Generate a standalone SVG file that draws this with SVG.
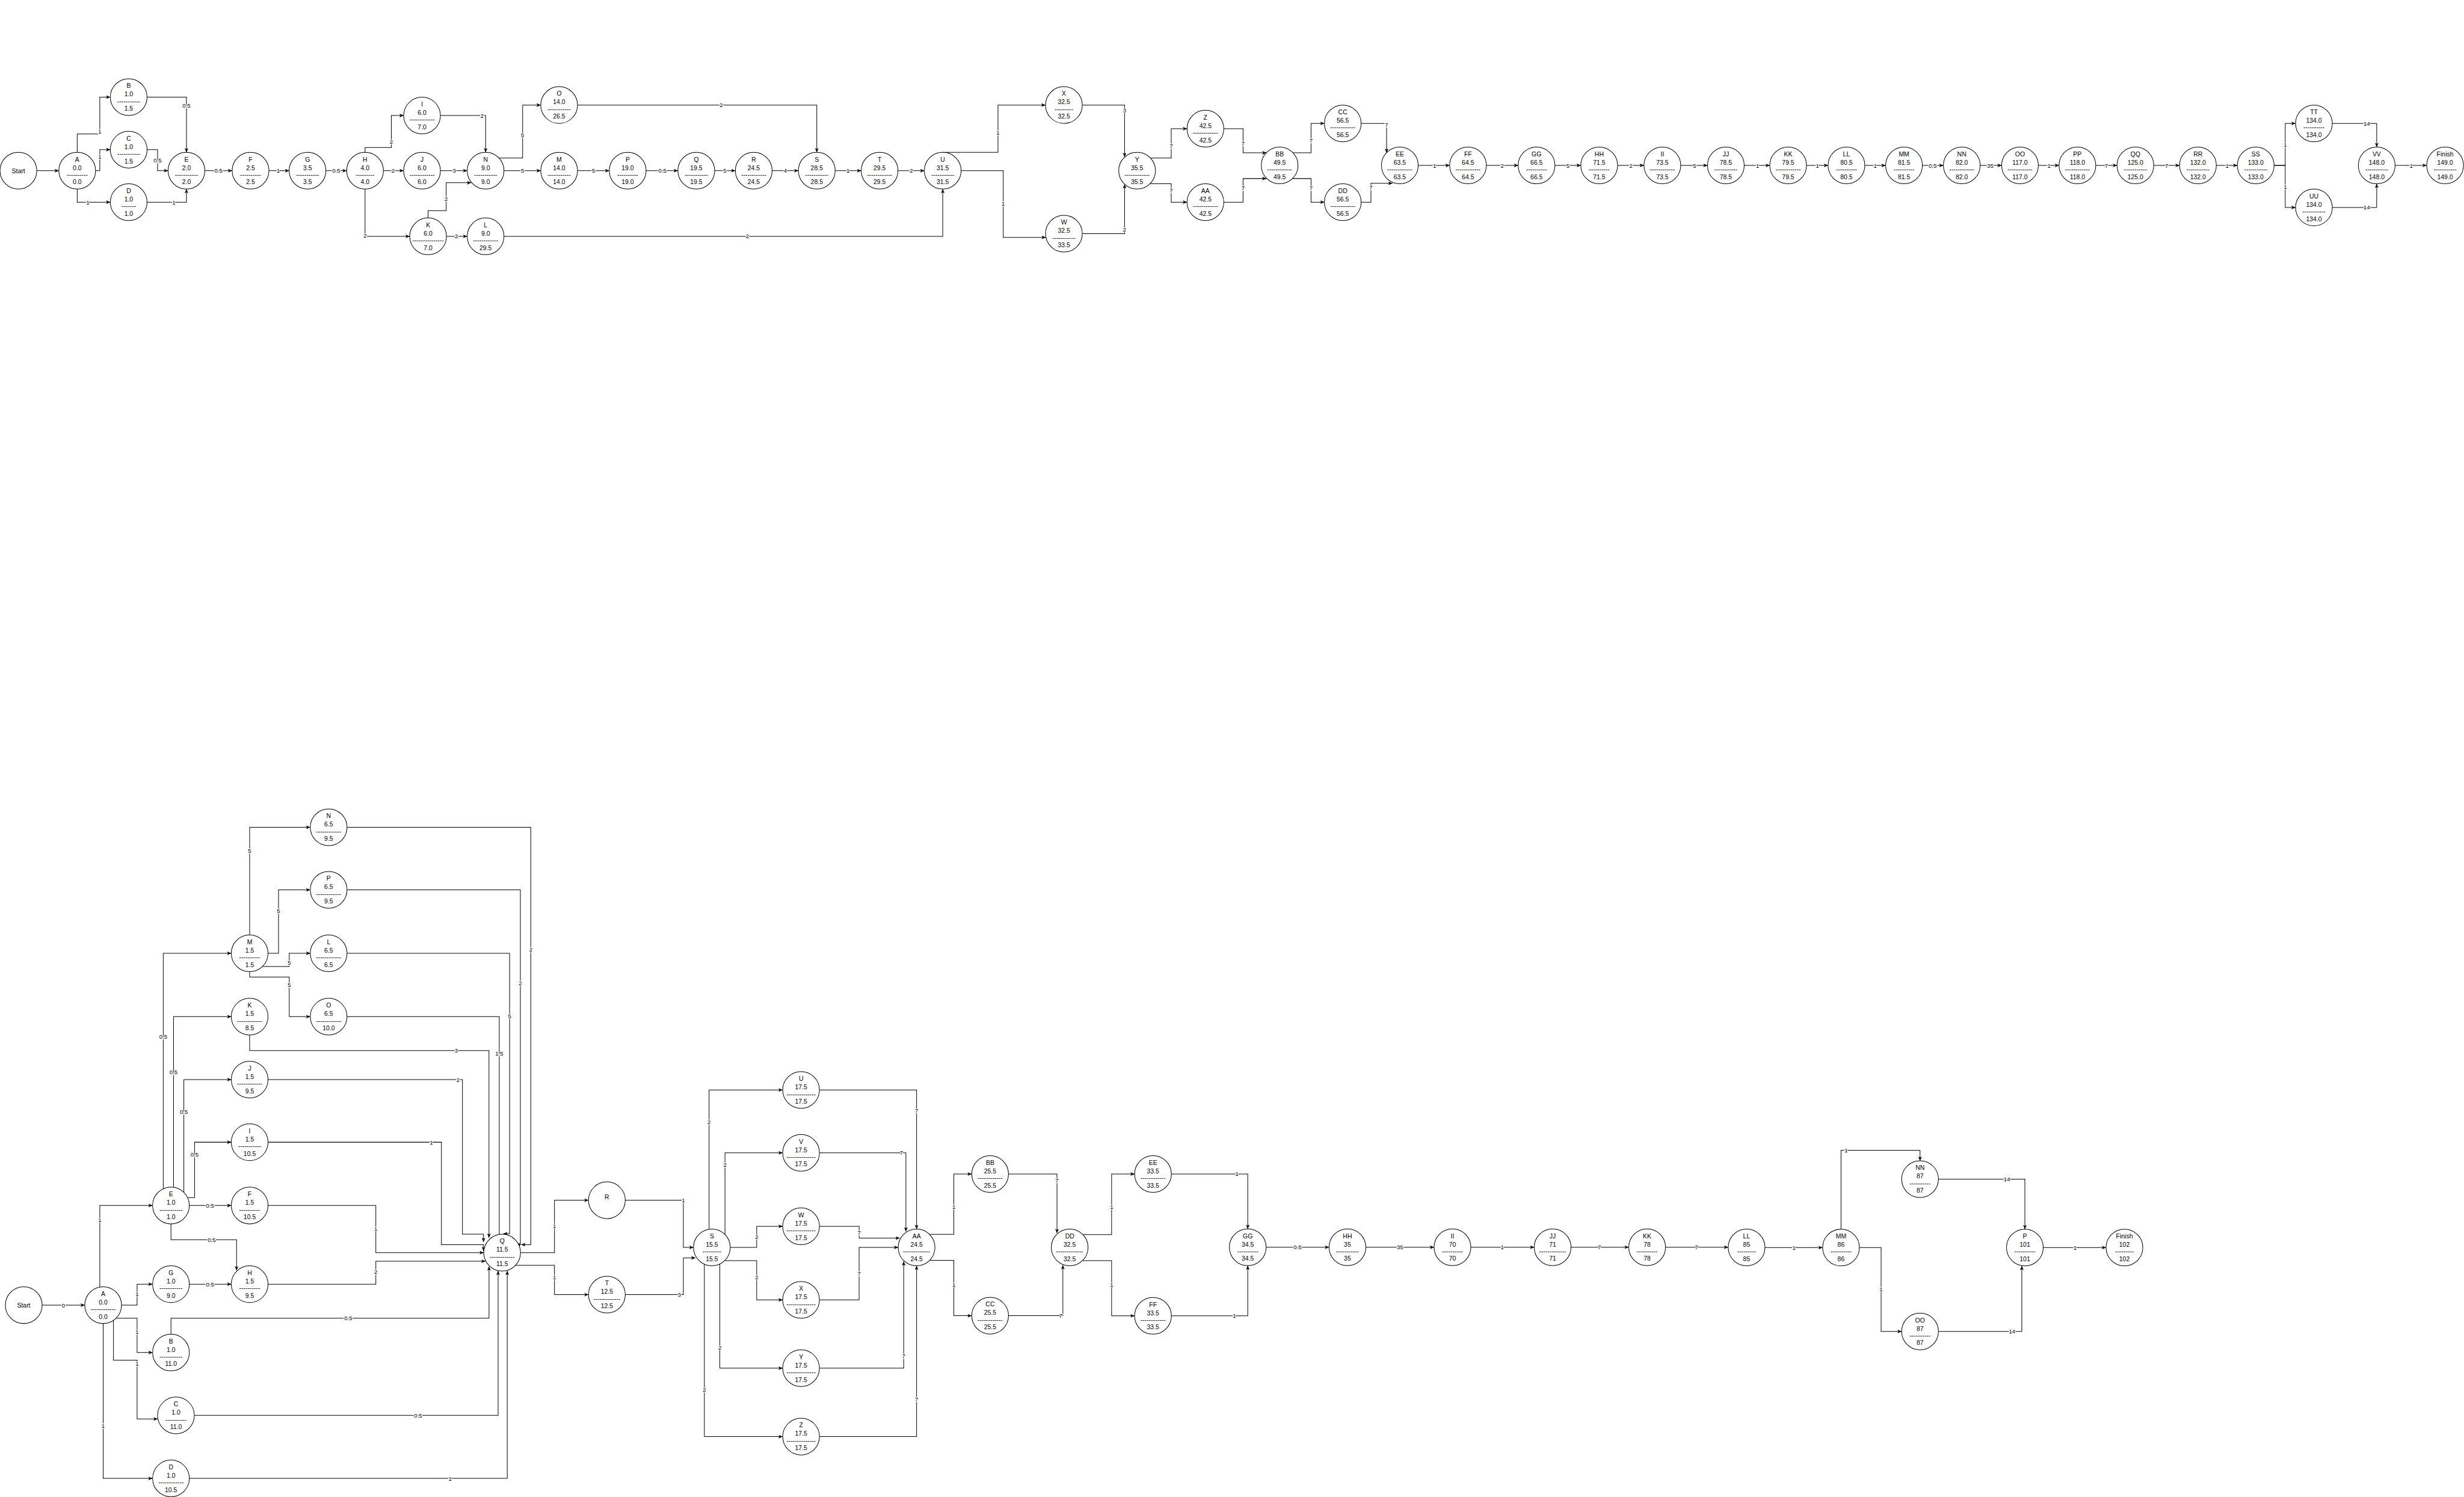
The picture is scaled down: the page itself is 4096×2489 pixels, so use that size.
<svg xmlns="http://www.w3.org/2000/svg" width="4096" height="2489" viewBox="0 0 4096 2489">
<defs>
<marker id="arr" markerWidth="9" markerHeight="8" refX="8" refY="3.5" orient="auto" markerUnits="userSpaceOnUse"><path d="M0,0 L8,3.5 L0,7 L2,3.5 Z" fill="#000"/></marker>
<style>
.n ellipse{fill:#fff;stroke:#000;stroke-width:1.15}
.n text{font-family:"Liberation Sans",Arial,sans-serif;font-size:12px;text-anchor:middle;fill:#000}
#connectors path{fill:none;stroke:#000;stroke-width:1.15;marker-end:url(#arr)}
#connectors text{font-family:"Liberation Sans",Arial,sans-serif;font-size:11px;text-anchor:middle;fill:#000;stroke:#fff;stroke-width:3px;paint-order:stroke;stroke-linejoin:round}
</style>
</defs>
<rect width="4096" height="2489" fill="#fff"/>
<g transform="scale(0.87316)">
<g id="connectors">
<path d="M70,325 H112"/>
<path d="M147,290 V255 H190 V185 H210"/>
<path d="M182,325 H190 V285 H210"/>
<path d="M147,360 V385 H210"/>
<path d="M280,185 H355 V290"/>
<path d="M280,285 H300 V325 H320"/>
<path d="M280,385 H355 V360"/>
<path d="M390,325 H442"/>
<path d="M512,325 H550.5"/>
<path d="M620.5,325 H660"/>
<path d="M695,290 V281 H745 V220 H768.5"/>
<path d="M730,325 H768.5"/>
<path d="M695,360 V450 H780"/>
<path d="M838.5,220 H924.5 V290"/>
<path d="M838.5,325 H889.5"/>
<path d="M815,415 V401 H849.5 V348 H897"/>
<path d="M850,450 H889.5"/>
<path d="M950,301 H995 V200 H1029.5"/>
<path d="M959.5,325 H1029.5"/>
<path d="M1099.5,325 H1160"/>
<path d="M1099.5,200 H1555 V290"/>
<path d="M959.5,450 H1794.8 V360"/>
<path d="M1230,325 H1290.6"/>
<path d="M1360.6,325 H1400"/>
<path d="M1470,325 H1520"/>
<path d="M1590,325 H1639.6"/>
<path d="M1709.6,325 H1759.8"/>
<path d="M1795,290 H1900 V200 H1990.5"/>
<path d="M1829.8,325 H1910 V452 H1991"/>
<path d="M2060.5,200 H2141 V299"/>
<path d="M2060.5,445 H2141 V351"/>
<path d="M2190,301 H2229.8 V245 H2259.9"/>
<path d="M2190,350 H2229.8 V385 H2259.9"/>
<path d="M2330,245 H2366.6 V291 H2411"/>
<path d="M2330,385 H2366.6 V340 H2411"/>
<path d="M2461,291 H2496 V235 H2521.4"/>
<path d="M2461,340 H2496 V385 H2521.4"/>
<path d="M2591.4,235 H2639.8 V291"/>
<path d="M2591.4,385 H2610 V349 H2651"/>
<path d="M2700,315 H2759.8"/>
<path d="M2829.8,315 H2890.3"/>
<path d="M2960.3,315 H3009.6"/>
<path d="M3079.6,315 H3129.8"/>
<path d="M3199.8,315 H3250.7"/>
<path d="M3320.7,315 H3369.3"/>
<path d="M3439.3,315 H3480.3"/>
<path d="M3550.3,315 H3589.9"/>
<path d="M3659.9,315 H3699.9"/>
<path d="M3769.9,315 H3810.7"/>
<path d="M3880.7,315 H3920"/>
<path d="M3990,315 H4030.4"/>
<path d="M4100.4,315 H4149.5"/>
<path d="M4219.5,315 H4259.5"/>
<path d="M4329.5,315 H4350.7 V235 H4370.3"/>
<path d="M4329.5,315 H4350.7 V395 H4370.3"/>
<path d="M4440.3,235 H4524.8 V280"/>
<path d="M4440.3,395 H4524.8 V350"/>
<path d="M4559.8,315 H4620"/>
<text x="190" y="254">1</text>
<text x="190" y="302">1</text>
<text x="167" y="389">1</text>
<text x="355" y="205">0.5</text>
<text x="300" y="309">0.5</text>
<text x="331" y="389">1</text>
<text x="416" y="329">0.5</text>
<text x="530" y="329">1</text>
<text x="640" y="329">0.5</text>
<text x="745" y="274">2</text>
<text x="748.5" y="329">2</text>
<text x="695" y="452">2</text>
<text x="918" y="224">2</text>
<text x="865" y="329">3</text>
<text x="849.5" y="382">2</text>
<text x="869" y="454">2</text>
<text x="995" y="261">5</text>
<text x="995" y="329">5</text>
<text x="1130" y="329">5</text>
<text x="1373" y="204">2</text>
<text x="1423" y="454">2</text>
<text x="1261" y="329">0.5</text>
<text x="1380" y="329">5</text>
<text x="1495" y="329">4</text>
<text x="1614.5" y="329">1</text>
<text x="1735" y="329">2</text>
<text x="1900" y="257">1</text>
<text x="1910" y="392">1</text>
<text x="2141" y="214">3</text>
<text x="2141" y="441">2</text>
<text x="2229.8" y="282">7</text>
<text x="2229.8" y="366">7</text>
<text x="2366.6" y="277">7</text>
<text x="2366.6" y="362">7</text>
<text x="2496" y="272">7</text>
<text x="2496" y="362">7</text>
<text x="2639.8" y="242">7</text>
<text x="2610" y="361">7</text>
<text x="2731" y="319">1</text>
<text x="2860" y="319">2</text>
<text x="2985" y="319">5</text>
<text x="3105" y="319">2</text>
<text x="3226" y="319">5</text>
<text x="3346" y="319">1</text>
<text x="3460" y="319">1</text>
<text x="3570" y="319">1</text>
<text x="3679.5" y="319">0,5</text>
<text x="3789" y="319">35</text>
<text x="3901" y="319">1</text>
<text x="4010" y="319">7</text>
<text x="4125" y="319">7</text>
<text x="4240" y="319">1</text>
<text x="4350.7" y="280">1</text>
<text x="4350.7" y="360">1</text>
<text x="4506" y="239">14</text>
<text x="4506" y="399">14</text>
<text x="4590.5" y="319">1</text>

<path d="M80.2,2485.3 H161.4"/>
<path d="M190,2451 V2295.5 H290.5"/>
<path d="M231.4,2485.3 H261 V2445.3 H290.5"/>
<path d="M221.5,2510 H261 V2575.4 H290.5"/>
<path d="M216,2514 V2590 H261 V2702 H300.3"/>
<path d="M196.4,2520.3 V2815.2 H290.5"/>
<path d="M360.5,2295.5 H440.3"/>
<path d="M325.5,2330.5 V2360.6 H450.4 V2419"/>
<path d="M360.5,2445.3 H440.3"/>
<path d="M510.3,2295.5 H715.5 V2385.2 H921"/>
<path d="M510.3,2445.3 H715.5 V2401.7 H924.3"/>
<path d="M325.5,2540.4 V2510 H931 V2411.5"/>
<path d="M370,2695.2 H948.3 V2420"/>
<path d="M360.5,2815.2 H965.7 V2420"/>
<path d="M310.8,2263.5 V1815.3 H440.3"/>
<path d="M330.4,2260.5 V1935.9 H440.3"/>
<path d="M350,2270.5 V2055.8 H440.3"/>
<path d="M357,2280.6 H370.4 V2175 H440.3"/>
<path d="M475.3,1780.3 V1575.3 H590.7"/>
<path d="M510.3,1815.3 H530.3 V1694.5 H590.7"/>
<path d="M499.6,1840.5 H550.7 V1815.3 H590.7"/>
<path d="M475.3,1850.3 V1860.4 H550.7 V1935.9 H590.7"/>
<path d="M660.7,1575.3 H1010.5 V2370 H992.3"/>
<path d="M660.7,1694.5 H990.7 V2370 H983"/>
<path d="M660.7,1815.3 H970.2 V2349.3 H958.3"/>
<path d="M660.7,1935.9 H950.5 V2353.3 H942"/>
<path d="M475.3,1970.9 V2000.5 H930.9 V2357"/>
<path d="M510.3,2055.8 H880.4 V2350 H920.5 V2365"/>
<path d="M510.3,2175 H840.4 V2370 H920.5 V2382"/>
<path d="M990.7,2385.2 H1055.6 V2285.5 H1120.4"/>
<path d="M981.5,2409.3 H1055.6 V2465.2 H1120.4"/>
<path d="M1190.4,2285.5 H1301 V2375.3 H1320.3"/>
<path d="M1190.4,2465.2 H1301 V2395.2 H1324"/>
<path d="M1350,2340.7 V2075.5 H1490.1"/>
<path d="M1380.2,2350.7 V2195.2 H1490.1"/>
<path d="M1390.3,2375.3 H1440.6 V2335.1 H1490.1"/>
<path d="M1379.7,2400.4 H1440.6 V2475.2 H1490.1"/>
<path d="M1370.4,2406.9 V2605.3 H1490.1"/>
<path d="M1341,2407.2 V2735.6 H1490.1"/>
<path d="M1560.1,2075.5 H1745 V2340.3"/>
<path d="M1560.1,2195.2 H1724.7 V2345"/>
<path d="M1560.1,2335.1 H1635.6 V2357.6 H1713"/>
<path d="M1560.1,2475.2 H1635.6 V2375.3 H1710"/>
<path d="M1560.1,2605.3 H1720.5 V2402"/>
<path d="M1560.1,2735.6 H1745 V2410.3"/>
<path d="M1769.5,2350.3 H1815.9 V2235.6 H1850"/>
<path d="M1769.5,2400 H1815.9 V2505.4 H1850"/>
<path d="M1920,2235.6 H2012.3 V2348"/>
<path d="M1920,2505.4 H2023.5 V2409"/>
<path d="M2061.5,2351 H2116.3 V2235.5 H2160.1"/>
<path d="M2061,2400.5 H2116.3 V2505.6 H2160.1"/>
<path d="M2230.1,2235.5 H2375.5 V2340"/>
<path d="M2230.1,2505.6 H2375.5 V2410"/>
<path d="M2410.5,2375 H2530.3"/>
<path d="M2600.3,2375 H2730.2"/>
<path d="M2800.2,2375 H2920.9"/>
<path d="M2990.9,2375 H3100.8"/>
<path d="M3170.8,2375 H3290.2"/>
<path d="M3360.2,2375.5 H3470"/>
<path d="M3505,2340.5 V2190.3 H3655.4 V2210.4"/>
<path d="M3540,2375.5 H3581.3 V2535.3 H3620.4"/>
<path d="M3690.4,2245.4 H3855 V2340.5"/>
<path d="M3690.4,2535.3 H3849.2 V2410.5"/>
<path d="M3890,2375.5 H4009.5"/>
<text x="120.7" y="2489.3">0</text>
<text x="190" y="2327">1</text>
<text x="261" y="2468.5">1</text>
<text x="261" y="2540.4">1</text>
<text x="261" y="2601">1</text>
<text x="196.4" y="2719">1</text>
<text x="400" y="2299.5">0.5</text>
<text x="403" y="2364.6">0.5</text>
<text x="400" y="2449.3">0.5</text>
<text x="715.5" y="2344.5">1</text>
<text x="715.5" y="2425.8">2</text>
<text x="663" y="2514">0.5</text>
<text x="796" y="2699.2">0.5</text>
<text x="857" y="2819.2">1</text>
<text x="310.8" y="1978">0.5</text>
<text x="330.4" y="2046">0.5</text>
<text x="350" y="2121">0.5</text>
<text x="370.4" y="2202">0.5</text>
<text x="475.3" y="1624">5</text>
<text x="530.3" y="1738">5</text>
<text x="550.7" y="1837">5</text>
<text x="550.7" y="1879">5</text>
<text x="1010.5" y="1811.5">2</text>
<text x="990.7" y="1876">2</text>
<text x="970.2" y="1939.4">5</text>
<text x="950.5" y="2009.7">1.5</text>
<text x="868.5" y="2004.5">3</text>
<text x="872" y="2059.8">2</text>
<text x="821" y="2179">1</text>
<text x="1055.6" y="2339.2">1</text>
<text x="1055.6" y="2436.5">1</text>
<text x="1301" y="2289.5">1</text>
<text x="1293.2" y="2469.2">3</text>
<text x="1350" y="2141">2</text>
<text x="1380.2" y="2221.7">2</text>
<text x="1440.6" y="2359.4">2</text>
<text x="1440.6" y="2436.5">2</text>
<text x="1370.4" y="2570">2</text>
<text x="1341" y="2650.4">2</text>
<text x="1745" y="2119">7</text>
<text x="1716" y="2199.2">7</text>
<text x="1635.6" y="2351.7">7</text>
<text x="1635.6" y="2429.2">7</text>
<text x="1720.5" y="2586.2">7</text>
<text x="1745" y="2668.8">7</text>
<text x="1815.9" y="2301.7">1</text>
<text x="1815.9" y="2450.6">1</text>
<text x="2012.3" y="2251.2">7</text>
<text x="2019.3" y="2509.4">7</text>
<text x="2116.3" y="2302.5">1</text>
<text x="2116.3" y="2450.4">1</text>
<text x="2355" y="2239.5">1</text>
<text x="2350" y="2509.6">1</text>
<text x="2470.4" y="2379">0.5</text>
<text x="2665.3" y="2379">35</text>
<text x="2860" y="2379">1</text>
<text x="3045" y="2379">7</text>
<text x="3230" y="2379">7</text>
<text x="3415.4" y="2379.5">1</text>
<text x="3514.7" y="2194.3">1</text>
<text x="3581.3" y="2459">1</text>
<text x="3820.8" y="2249.4">14</text>
<text x="3830.6" y="2539.3">14</text>
<text x="3950.4" y="2379.5">1</text>
</g>

<g id="t-Start" class="n" transform="translate(35 325)"><ellipse rx="35" ry="35"/><text y="4.3">Start</text></g>
<g id="t-A" class="n" transform="translate(147 325)"><ellipse rx="35" ry="35"/><text y="-17.4">A</text><text y="-1.4">0.0</text><text y="11.8">----------</text><text y="26">0.0</text></g>
<g id="t-B" class="n" transform="translate(245 185)"><ellipse rx="35" ry="35"/><text y="-17.4">B</text><text y="-1.4">1.0</text><text y="11.8">-----------</text><text y="26">1.5</text></g>
<g id="t-C" class="n" transform="translate(245 285)"><ellipse rx="35" ry="35"/><text y="-17.4">C</text><text y="-1.4">1.0</text><text y="11.8">-----------</text><text y="26">1.5</text></g>
<g id="t-D" class="n" transform="translate(245 385)"><ellipse rx="35" ry="35"/><text y="-17.4">D</text><text y="-1.4">1.0</text><text y="11.8">-------</text><text y="26">1.0</text></g>
<g id="t-E" class="n" transform="translate(355 325)"><ellipse rx="35" ry="35"/><text y="-17.4">E</text><text y="-1.4">2.0</text><text y="11.8">-----------</text><text y="26">2.0</text></g>
<g id="t-F" class="n" transform="translate(477 325)"><ellipse rx="35" ry="35"/><text y="-17.4">F</text><text y="-1.4">2.5</text><text y="11.8">----------</text><text y="26">2.5</text></g>
<g id="t-G" class="n" transform="translate(585.5 325)"><ellipse rx="35" ry="35"/><text y="-17.4">G</text><text y="-1.4">3.5</text><text y="11.8">-----------</text><text y="26">3.5</text></g>
<g id="t-H" class="n" transform="translate(695 325)"><ellipse rx="35" ry="35"/><text y="-17.4">H</text><text y="-1.4">4.0</text><text y="11.8">---------</text><text y="26">4.0</text></g>
<g id="t-I" class="n" transform="translate(803.5 220)"><ellipse rx="35" ry="35"/><text y="-17.4">I</text><text y="-1.4">6.0</text><text y="11.8">------------</text><text y="26">7.0</text></g>
<g id="t-J" class="n" transform="translate(803.5 325)"><ellipse rx="35" ry="35"/><text y="-17.4">J</text><text y="-1.4">6.0</text><text y="11.8">------------</text><text y="26">6.0</text></g>
<g id="t-K" class="n" transform="translate(815 450)"><ellipse rx="35" ry="35"/><text y="-17.4">K</text><text y="-1.4">6.0</text><text y="11.8">---------------</text><text y="26">7.0</text></g>
<g id="t-L" class="n" transform="translate(924.5 450)"><ellipse rx="35" ry="35"/><text y="-17.4">L</text><text y="-1.4">9.0</text><text y="11.8">------------</text><text y="26">29.5</text></g>
<g id="t-N" class="n" transform="translate(924.5 325)"><ellipse rx="35" ry="35"/><text y="-17.4">N</text><text y="-1.4">9.0</text><text y="11.8">-----------</text><text y="26">9.0</text></g>
<g id="t-O" class="n" transform="translate(1064.5 200)"><ellipse rx="35" ry="35"/><text y="-17.4">O</text><text y="-1.4">14.0</text><text y="11.8">-----------</text><text y="26">26.5</text></g>
<g id="t-M" class="n" transform="translate(1064.5 325)"><ellipse rx="35" ry="35"/><text y="-17.4">M</text><text y="-1.4">14.0</text><text y="11.8">-----------</text><text y="26">14.0</text></g>
<g id="t-P" class="n" transform="translate(1195 325)"><ellipse rx="35" ry="35"/><text y="-17.4">P</text><text y="-1.4">19.0</text><text y="11.8">----------</text><text y="26">19.0</text></g>
<g id="t-Q" class="n" transform="translate(1325.6 325)"><ellipse rx="35" ry="35"/><text y="-17.4">Q</text><text y="-1.4">19.5</text><text y="11.8">-----------</text><text y="26">19.5</text></g>
<g id="t-R" class="n" transform="translate(1435 325)"><ellipse rx="35" ry="35"/><text y="-17.4">R</text><text y="-1.4">24.5</text><text y="11.8">------------</text><text y="26">24.5</text></g>
<g id="t-S" class="n" transform="translate(1555 325)"><ellipse rx="35" ry="35"/><text y="-17.4">S</text><text y="-1.4">28.5</text><text y="11.8">-----------</text><text y="26">28.5</text></g>
<g id="t-T" class="n" transform="translate(1674.6 325)"><ellipse rx="35" ry="35"/><text y="-17.4">T</text><text y="-1.4">29.5</text><text y="11.8">------------</text><text y="26">29.5</text></g>
<g id="t-U" class="n" transform="translate(1794.8 325)"><ellipse rx="35" ry="35"/><text y="-17.4">U</text><text y="-1.4">31.5</text><text y="11.8">-----------</text><text y="26">31.5</text></g>
<g id="t-X" class="n" transform="translate(2025.5 200)"><ellipse rx="35" ry="35"/><text y="-17.4">X</text><text y="-1.4">32.5</text><text y="11.8">---------</text><text y="26">32.5</text></g>
<g id="t-W" class="n" transform="translate(2025.5 445)"><ellipse rx="35" ry="35"/><text y="-17.4">W</text><text y="-1.4">32.5</text><text y="11.8">-----------</text><text y="26">33.5</text></g>
<g id="t-Y" class="n" transform="translate(2164.8 325)"><ellipse rx="35" ry="35"/><text y="-17.4">Y</text><text y="-1.4">35.5</text><text y="11.8">------------</text><text y="26">35.5</text></g>
<g id="t-Z" class="n" transform="translate(2294.9 245)"><ellipse rx="35" ry="35"/><text y="-17.4">Z</text><text y="-1.4">42.5</text><text y="11.8">------------</text><text y="26">42.5</text></g>
<g id="t-AA" class="n" transform="translate(2294.9 385)"><ellipse rx="35" ry="35"/><text y="-17.4">AA</text><text y="-1.4">42.5</text><text y="11.8">------------</text><text y="26">42.5</text></g>
<g id="t-BB" class="n" transform="translate(2436.2 315)"><ellipse rx="35" ry="35"/><text y="-17.4">BB</text><text y="-1.4">49.5</text><text y="11.8">------------</text><text y="26">49.5</text></g>
<g id="t-CC" class="n" transform="translate(2556.4 235)"><ellipse rx="35" ry="35"/><text y="-17.4">CC</text><text y="-1.4">56.5</text><text y="11.8">------------</text><text y="26">56.5</text></g>
<g id="t-DD" class="n" transform="translate(2556.4 385)"><ellipse rx="35" ry="35"/><text y="-17.4">DD</text><text y="-1.4">56.5</text><text y="11.8">------------</text><text y="26">56.5</text></g>
<g id="t-EE" class="n" transform="translate(2665 315)"><ellipse rx="35" ry="35"/><text y="-17.4">EE</text><text y="-1.4">63.5</text><text y="11.8">------------</text><text y="26">63.5</text></g>
<g id="t-FF" class="n" transform="translate(2794.8 315)"><ellipse rx="35" ry="35"/><text y="-17.4">FF</text><text y="-1.4">64.5</text><text y="11.8">------------</text><text y="26">64.5</text></g>
<g id="t-GG" class="n" transform="translate(2925.3 315)"><ellipse rx="35" ry="35"/><text y="-17.4">GG</text><text y="-1.4">66.5</text><text y="11.8">----------</text><text y="26">66.5</text></g>
<g id="t-HH" class="n" transform="translate(3044.6 315)"><ellipse rx="35" ry="35"/><text y="-17.4">HH</text><text y="-1.4">71.5</text><text y="11.8">----------</text><text y="26">71.5</text></g>
<g id="t-II" class="n" transform="translate(3164.8 315)"><ellipse rx="35" ry="35"/><text y="-17.4">II</text><text y="-1.4">73.5</text><text y="11.8">------------</text><text y="26">73.5</text></g>
<g id="t-JJ" class="n" transform="translate(3285.7 315)"><ellipse rx="35" ry="35"/><text y="-17.4">JJ</text><text y="-1.4">78.5</text><text y="11.8">-----------</text><text y="26">78.5</text></g>
<g id="t-KK" class="n" transform="translate(3404.3 315)"><ellipse rx="35" ry="35"/><text y="-17.4">KK</text><text y="-1.4">79.5</text><text y="11.8">------------</text><text y="26">79.5</text></g>
<g id="t-LL" class="n" transform="translate(3515.3 315)"><ellipse rx="35" ry="35"/><text y="-17.4">LL</text><text y="-1.4">80.5</text><text y="11.8">----------</text><text y="26">80.5</text></g>
<g id="t-MM" class="n" transform="translate(3624.9 315)"><ellipse rx="35" ry="35"/><text y="-17.4">MM</text><text y="-1.4">81.5</text><text y="11.8">----------</text><text y="26">81.5</text></g>
<g id="t-NN" class="n" transform="translate(3734.9 315)"><ellipse rx="35" ry="35"/><text y="-17.4">NN</text><text y="-1.4">82.0</text><text y="11.8">------------</text><text y="26">82.0</text></g>
<g id="t-OO" class="n" transform="translate(3845.7 315)"><ellipse rx="35" ry="35"/><text y="-17.4">OO</text><text y="-1.4">117.0</text><text y="11.8">------------</text><text y="26">117.0</text></g>
<g id="t-PP" class="n" transform="translate(3955 315)"><ellipse rx="35" ry="35"/><text y="-17.4">PP</text><text y="-1.4">118.0</text><text y="11.8">------------</text><text y="26">118.0</text></g>
<g id="t-QQ" class="n" transform="translate(4065.4 315)"><ellipse rx="35" ry="35"/><text y="-17.4">QQ</text><text y="-1.4">125.0</text><text y="11.8">-----------</text><text y="26">125.0</text></g>
<g id="t-RR" class="n" transform="translate(4184.5 315)"><ellipse rx="35" ry="35"/><text y="-17.4">RR</text><text y="-1.4">132.0</text><text y="11.8">-----------</text><text y="26">132.0</text></g>
<g id="t-SS" class="n" transform="translate(4294.5 315)"><ellipse rx="35" ry="35"/><text y="-17.4">SS</text><text y="-1.4">133.0</text><text y="11.8">-----------</text><text y="26">133.0</text></g>
<g id="t-TT" class="n" transform="translate(4405.3 235)"><ellipse rx="35" ry="35"/><text y="-17.4">TT</text><text y="-1.4">134.0</text><text y="11.8">----------</text><text y="26">134.0</text></g>
<g id="t-UU" class="n" transform="translate(4405.3 395)"><ellipse rx="35" ry="35"/><text y="-17.4">UU</text><text y="-1.4">134.0</text><text y="11.8">-----------</text><text y="26">134.0</text></g>
<g id="t-VV" class="n" transform="translate(4524.8 315)"><ellipse rx="35" ry="35"/><text y="-17.4">VV</text><text y="-1.4">148.0</text><text y="11.8">-----------</text><text y="26">148.0</text></g>
<g id="t-Finish" class="n" transform="translate(4655 315)"><ellipse rx="35" ry="35"/><text y="-17.4">Finish</text><text y="-1.4">149.0</text><text y="11.8">-----------</text><text y="26">149.0</text></g>

<g id="b-Start" class="n" transform="translate(45.2 2485.3)"><ellipse rx="35" ry="35"/><text y="4.3">Start</text></g>
<g id="b-A" class="n" transform="translate(196.4 2485.3)"><ellipse rx="35" ry="35"/><text y="-17.4">A</text><text y="-1.4">0.0</text><text y="11.8">------------</text><text y="26">0.0</text></g>
<g id="b-E" class="n" transform="translate(325.5 2295.5)"><ellipse rx="35" ry="35"/><text y="-17.4">E</text><text y="-1.4">1.0</text><text y="11.8">-----------</text><text y="26">1.0</text></g>
<g id="b-F" class="n" transform="translate(475.3 2295.5)"><ellipse rx="35" ry="35"/><text y="-17.4">F</text><text y="-1.4">1.5</text><text y="11.8">----------</text><text y="26">10.5</text></g>
<g id="b-G" class="n" transform="translate(325.5 2445.3)"><ellipse rx="35" ry="35"/><text y="-17.4">G</text><text y="-1.4">1.0</text><text y="11.8">-----------</text><text y="26">9.0</text></g>
<g id="b-H" class="n" transform="translate(475.3 2445.3)"><ellipse rx="35" ry="35"/><text y="-17.4">H</text><text y="-1.4">1.5</text><text y="11.8">----------</text><text y="26">9.5</text></g>
<g id="b-B" class="n" transform="translate(325.5 2575.4)"><ellipse rx="35" ry="35"/><text y="-17.4">B</text><text y="-1.4">1.0</text><text y="11.8">-----------</text><text y="26">11.0</text></g>
<g id="b-C" class="n" transform="translate(335 2695.2)"><ellipse rx="35" ry="35"/><text y="-17.4">C</text><text y="-1.4">1.0</text><text y="11.8">----------</text><text y="26">11.0</text></g>
<g id="b-D" class="n" transform="translate(325.5 2815.2)"><ellipse rx="35" ry="35"/><text y="-17.4">D</text><text y="-1.4">1.0</text><text y="11.8">------------</text><text y="26">10.5</text></g>
<g id="b-I" class="n" transform="translate(475.3 2175)"><ellipse rx="35" ry="35"/><text y="-17.4">I</text><text y="-1.4">1.5</text><text y="11.8">-----------</text><text y="26">10.5</text></g>
<g id="b-J" class="n" transform="translate(475.3 2055.8)"><ellipse rx="35" ry="35"/><text y="-17.4">J</text><text y="-1.4">1.5</text><text y="11.8">------------</text><text y="26">9.5</text></g>
<g id="b-K" class="n" transform="translate(475.3 1935.9)"><ellipse rx="35" ry="35"/><text y="-17.4">K</text><text y="-1.4">1.5</text><text y="11.8">------------</text><text y="26">8.5</text></g>
<g id="b-M" class="n" transform="translate(475.3 1815.3)"><ellipse rx="35" ry="35"/><text y="-17.4">M</text><text y="-1.4">1.5</text><text y="11.8">----------</text><text y="26">1.5</text></g>
<g id="b-N" class="n" transform="translate(625.7 1575.3)"><ellipse rx="35" ry="35"/><text y="-17.4">N</text><text y="-1.4">6.5</text><text y="11.8">------------</text><text y="26">9.5</text></g>
<g id="b-P" class="n" transform="translate(625.7 1694.5)"><ellipse rx="35" ry="35"/><text y="-17.4">P</text><text y="-1.4">6.5</text><text y="11.8">------------</text><text y="26">9.5</text></g>
<g id="b-L" class="n" transform="translate(625.7 1815.3)"><ellipse rx="35" ry="35"/><text y="-17.4">L</text><text y="-1.4">6.5</text><text y="11.8">------------</text><text y="26">6.5</text></g>
<g id="b-O" class="n" transform="translate(625.7 1935.9)"><ellipse rx="35" ry="35"/><text y="-17.4">O</text><text y="-1.4">6.5</text><text y="11.8">------------</text><text y="26">10.0</text></g>
<g id="b-Q" class="n" transform="translate(956 2385.2)"><ellipse rx="35" ry="35"/><text y="-17.4">Q</text><text y="-1.4">11.5</text><text y="11.8">------------</text><text y="26">11.5</text></g>
<g id="b-R" class="n" transform="translate(1155.4 2285.5)"><ellipse rx="35" ry="35"/><text y="-1.9">R</text></g>
<g id="b-T" class="n" transform="translate(1155.4 2465.2)"><ellipse rx="35" ry="35"/><text y="-17.4">T</text><text y="-1.4">12.5</text><text y="11.8">-------------</text><text y="26">12.5</text></g>
<g id="b-S" class="n" transform="translate(1355.3 2375.3)"><ellipse rx="35" ry="35"/><text y="-17.4">S</text><text y="-1.4">15.5</text><text y="11.8">---------</text><text y="26">15.5</text></g>
<g id="b-U" class="n" transform="translate(1525.1 2075.5)"><ellipse rx="35" ry="35"/><text y="-17.4">U</text><text y="-1.4">17.5</text><text y="11.8">--------------</text><text y="26">17.5</text></g>
<g id="b-V" class="n" transform="translate(1525.1 2195.2)"><ellipse rx="35" ry="35"/><text y="-17.4">V</text><text y="-1.4">17.5</text><text y="11.8">--------------</text><text y="26">17.5</text></g>
<g id="b-W" class="n" transform="translate(1525.1 2335.1)"><ellipse rx="35" ry="35"/><text y="-17.4">W</text><text y="-1.4">17.5</text><text y="11.8">--------------</text><text y="26">17.5</text></g>
<g id="b-X" class="n" transform="translate(1525.1 2475.2)"><ellipse rx="35" ry="35"/><text y="-17.4">X</text><text y="-1.4">17.5</text><text y="11.8">--------------</text><text y="26">17.5</text></g>
<g id="b-Y" class="n" transform="translate(1525.1 2605.3)"><ellipse rx="35" ry="35"/><text y="-17.4">Y</text><text y="-1.4">17.5</text><text y="11.8">--------------</text><text y="26">17.5</text></g>
<g id="b-Z" class="n" transform="translate(1525.1 2735.6)"><ellipse rx="35" ry="35"/><text y="-17.4">Z</text><text y="-1.4">17.5</text><text y="11.8">--------------</text><text y="26">17.5</text></g>
<g id="b-AA" class="n" transform="translate(1745 2375.3)"><ellipse rx="35" ry="35"/><text y="-17.4">AA</text><text y="-1.4">24.5</text><text y="11.8">-------------</text><text y="26">24.5</text></g>
<g id="b-BB" class="n" transform="translate(1885 2235.6)"><ellipse rx="35" ry="35"/><text y="-17.4">BB</text><text y="-1.4">25.5</text><text y="11.8">------------</text><text y="26">25.5</text></g>
<g id="b-CC" class="n" transform="translate(1885 2505.4)"><ellipse rx="35" ry="35"/><text y="-17.4">CC</text><text y="-1.4">25.5</text><text y="11.8">------------</text><text y="26">25.5</text></g>
<g id="b-DD" class="n" transform="translate(2036.5 2375.3)"><ellipse rx="35" ry="35"/><text y="-17.4">DD</text><text y="-1.4">32.5</text><text y="11.8">-------------</text><text y="26">32.5</text></g>
<g id="b-EE" class="n" transform="translate(2195.1 2235.5)"><ellipse rx="35" ry="35"/><text y="-17.4">EE</text><text y="-1.4">33.5</text><text y="11.8">------------</text><text y="26">33.5</text></g>
<g id="b-FF" class="n" transform="translate(2195.1 2505.6)"><ellipse rx="35" ry="35"/><text y="-17.4">FF</text><text y="-1.4">33.5</text><text y="11.8">------------</text><text y="26">33.5</text></g>
<g id="b-GG" class="n" transform="translate(2375.5 2375)"><ellipse rx="35" ry="35"/><text y="-17.4">GG</text><text y="-1.4">34.5</text><text y="11.8">----------</text><text y="26">34.5</text></g>
<g id="b-HH" class="n" transform="translate(2565.3 2375)"><ellipse rx="35" ry="35"/><text y="-17.4">HH</text><text y="-1.4">35</text><text y="11.8">-----------</text><text y="26">35</text></g>
<g id="b-II" class="n" transform="translate(2765.2 2375)"><ellipse rx="35" ry="35"/><text y="-17.4">II</text><text y="-1.4">70</text><text y="11.8">----------</text><text y="26">70</text></g>
<g id="b-JJ" class="n" transform="translate(2955.9 2375)"><ellipse rx="35" ry="35"/><text y="-17.4">JJ</text><text y="-1.4">71</text><text y="11.8">-------------</text><text y="26">71</text></g>
<g id="b-KK" class="n" transform="translate(3135.8 2375)"><ellipse rx="35" ry="35"/><text y="-17.4">KK</text><text y="-1.4">78</text><text y="11.8">----------</text><text y="26">78</text></g>
<g id="b-LL" class="n" transform="translate(3325.2 2375.3)"><ellipse rx="35" ry="35"/><text y="-17.4">LL</text><text y="-1.4">85</text><text y="11.8">---------</text><text y="26">85</text></g>
<g id="b-MM" class="n" transform="translate(3505 2375.5)"><ellipse rx="35" ry="35"/><text y="-17.4">MM</text><text y="-1.4">86</text><text y="11.8">----------</text><text y="26">86</text></g>
<g id="b-NN" class="n" transform="translate(3655.4 2245.4)"><ellipse rx="35" ry="35"/><text y="-17.4">NN</text><text y="-1.4">87</text><text y="11.8">----------</text><text y="26">87</text></g>
<g id="b-OO" class="n" transform="translate(3655.4 2535.3)"><ellipse rx="35" ry="35"/><text y="-17.4">OO</text><text y="-1.4">87</text><text y="11.8">----------</text><text y="26">87</text></g>
<g id="b-P2" class="n" transform="translate(3855 2375.5)"><ellipse rx="35" ry="35"/><text y="-17.4">P</text><text y="-1.4">101</text><text y="11.8">----------</text><text y="26">101</text></g>
<g id="b-Finish" class="n" transform="translate(4044.5 2375.5)"><ellipse rx="35" ry="35"/><text y="-17.4">Finish</text><text y="-1.4">102</text><text y="11.8">---------</text><text y="26">102</text></g>
</g>
</svg>
